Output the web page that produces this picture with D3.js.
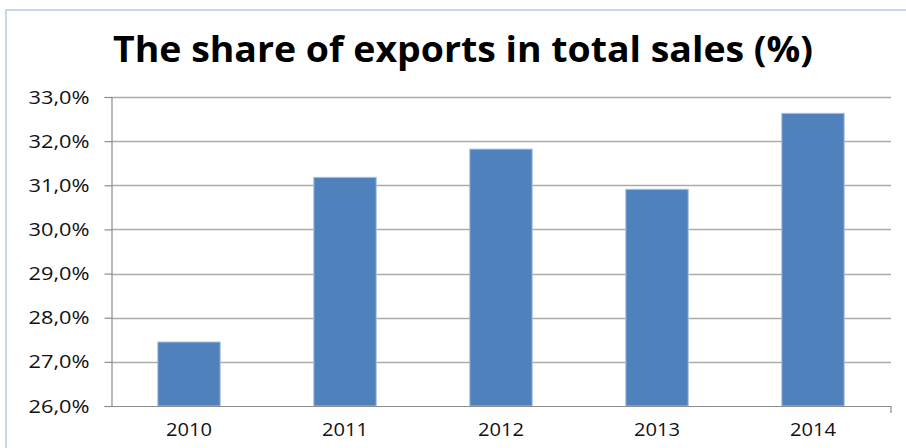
<!DOCTYPE html>
<html><head><meta charset="utf-8">
<script src="https://cdn.jsdelivr.net/npm/d3@7"></script>
<style>html,body{margin:0;padding:0;background:#fff;}svg{display:block;}</style>
</head><body>
<svg id="chart" width="906" height="448"></svg>
<script>
const title = "The share of exports in total sales (%)";
const categories = ["2010", "2011", "2012", "2013", "2014"];
const values = [27.45, 31.18, 31.82, 30.91, 32.63];
const yTicks = [26, 27, 28, 29, 30, 31, 32, 33];
const yDomain = [26, 33];

const svg = d3.select("#chart");
const W = 906, H = 448;
const m = {left: 111, right: 15, top: 97, bottom: 42};

// outer frame
svg.append("path")
  .attr("d", `M6,${H} L6,10 L${W},10`)
  .attr("fill", "none").attr("stroke", "#c5d6ec").attr("stroke-width", 2);

svg.append("text")
  .attr("x", 463).attr("y", 62)
  .attr("text-anchor", "middle")
  .attr("font-family", "'Open Sans', sans-serif")
  .attr("font-weight", "bold").attr("font-size", 35)
  .attr("textLength", 700).attr("lengthAdjust", "spacingAndGlyphs")
  .attr("fill", "#000").text(title);

const x = d3.scaleBand().domain(categories)
  .range([m.left, W - m.right]).paddingInner(0.6).paddingOuter(0.3);
const y = d3.scaleLinear().domain(yDomain).range([H - m.bottom, m.top]);

// gridlines
svg.append("g").selectAll("line").data(yTicks.slice(1)).join("line")
  .attr("x1", m.left).attr("x2", W - m.right)
  .attr("y1", d => Math.round(y(d)) + 0.5).attr("y2", d => Math.round(y(d)) + 0.5)
  .attr("stroke", "#ababab").attr("stroke-width", 1.5);

// bars
svg.append("g").selectAll("rect").data(values).join("rect")
  .attr("x", (d, i) => x(categories[i]))
  .attr("width", x.bandwidth())
  .attr("y", d => y(d))
  .attr("height", d => y(yDomain[0]) - y(d))
  .attr("fill", "#4f81bd").attr("stroke", "#a9c1e0").attr("stroke-width", 1);

// y axis
const yAxis = d3.axisLeft(y).tickValues(yTicks).tickSize(7).tickPadding(15)
  .tickFormat(d => d3.format(".1f")(d).replace(".", ",") + "%");
const gy = svg.append("g").attr("transform", `translate(${m.left + 0.5},0)`).call(yAxis);
gy.select(".domain").attr("stroke", "#8c8c8c").attr("stroke-width", 1.2);
gy.selectAll(".tick line").attr("stroke", "#8c8c8c").attr("stroke-width", 1.2);
gy.selectAll(".tick text").attr("font-family", "'Open Sans', sans-serif")
  .attr("font-size", 19).attr("fill", "#111")
  .attr("textLength", 61).attr("lengthAdjust", "spacingAndGlyphs");

// x axis
const xAxis = d3.axisBottom(x).tickSize(0).tickPadding(17);
const gx = svg.append("g").attr("transform", `translate(0,${H - m.bottom})`).call(xAxis);
gx.select(".domain").attr("stroke", "#8c8c8c").attr("stroke-width", 1.2)
  .attr("d", `M${m.left},0.5H${W - m.right}V7`);
gx.selectAll(".tick text").attr("font-family", "'Open Sans', sans-serif")
  .attr("font-size", 18).attr("fill", "#111")
  .attr("textLength", 46).attr("lengthAdjust", "spacingAndGlyphs");
</script>
</body></html>
